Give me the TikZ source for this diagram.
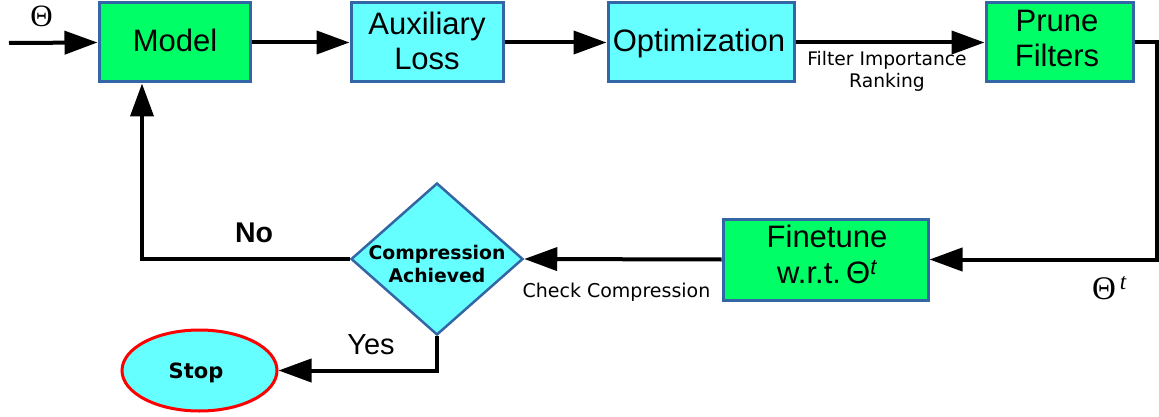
\documentclass[tikz,border=0pt]{standalone}
\usepackage{fontspec}
\setmainfont{Liberation Sans}
\newfontfamily\dejavu{DejaVu Sans}
\newfontfamily\serifgr{Liberation Serif}
\usetikzlibrary{arrows.meta,shapes.geometric}
\definecolor{boxgreen}{HTML}{00FF66}
\definecolor{boxcyan}{HTML}{66FFFF}
\definecolor{boxline}{HTML}{3465A4}
\begin{document}
\begin{tikzpicture}[x=1pt,y=-1pt,
  box/.style={draw=boxline, line width=3pt, minimum height=79pt, inner sep=0pt},
  gbox/.style={box, fill=boxgreen},
  cbox/.style={box, fill=boxcyan},
  txt/.style={font=\fontsize{31}{35.5}\selectfont, align=center, inner sep=0pt},
  lab/.style={font=\dejavu\fontsize{18.7}{22}\selectfont, align=center, inner sep=0pt},
  arr/.style={line width=4pt, -{Triangle[length=33pt,width=23pt]}},
  conn/.style={line width=4pt}
]
\useasboundingbox (0,0) rectangle (1159,417);
% boxes
\node[gbox, minimum width=151pt] (model) at (174.5,42.5) {};
\node[cbox, minimum width=152pt] (aux) at (427,42.5) {};
\node[cbox, minimum width=186pt] (opt) at (701,42.5) {};
\node[gbox, minimum width=147pt] (prune) at (1059.5,42.5) {};
\node[gbox, minimum width=205pt, minimum height=81pt] (fine) at (825.5,259.5) {};
\node[diamond, draw=boxline, fill=boxcyan, line width=2.5pt, minimum width=172pt, minimum height=152pt, inner sep=0pt] (dec) at (437,259) {};
\node[ellipse, draw=red, fill=boxcyan, line width=3pt, minimum width=155pt, minimum height=81pt, inner sep=0pt] (stop) at (199.5,370.5) {};
% texts
\node[txt, anchor=base] (modelT) at (175,52) {Model};
\node[txt] (auxT) at (427,40.8) {Auxiliary\\Loss};
\node[txt, anchor=base] (optT) at (699,52) {Optimization};
\node[txt] (pruneT) at (1057,38.3) {Prune\\Filters};
\node[txt] (fineT) at (827,254.5) {Finetune\\w.r.t.\,Θ\textsuperscript{\itshape t}};
\node[font=\dejavu\bfseries\fontsize{18.8}{23}\selectfont, align=center, inner sep=0pt] (decT) at (437,263.5) {Compression\\Achieved};
\node[font=\dejavu\bfseries\fontsize{21}{24}\selectfont, inner sep=0pt, anchor=base] (stopT) at (196,378) {Stop};
% labels
\node[font=\serifgr\fontsize{31}{34}\selectfont, inner sep=0pt, anchor=base] (thetaIn) at (41.5,27) {Θ};
\node[font=\serifgr\fontsize{33}{36}\selectfont, inner sep=0pt, anchor=base west] (thetaT) at (1092,299) {Θ\textsuperscript{\itshape\,t}};
\node[lab] (filterL) at (887,71) {Filter Importance\\Ranking};
\node[font=\dejavu\fontsize{19}{22}\selectfont, inner sep=0pt, anchor=base] (checkL) at (616.5,297) {Check Compression};
\node[font=\bfseries\fontsize{28.5}{32}\selectfont, inner sep=0pt, anchor=base] (noL) at (254,242) {No};
\node[font=\fontsize{29}{32}\selectfont, inner sep=0pt, anchor=base] (yesL) at (371,354) {Yes};
% coordinates
\coordinate (inP) at (9,43);
\coordinate (rightC) at (1157,259.5);
\coordinate (noC) at (142,259);
% connectors
\draw[arr] (inP) -- (model.west);
\draw[arr] (model.east) -- (aux.west);
\draw[arr] (aux.east) -- (opt.west);
\draw[arr] (opt.east) -- (prune.west);
\draw[arr] (prune.east) -| (rightC) -- (fine.east);
\draw[arr] (fine.west) -- (dec.east);
\draw[arr] (dec.west) -- (noC) -- (noC |- model.south);
\draw[arr] (dec.south) |- (stop.east);
\end{tikzpicture}
\end{document}
